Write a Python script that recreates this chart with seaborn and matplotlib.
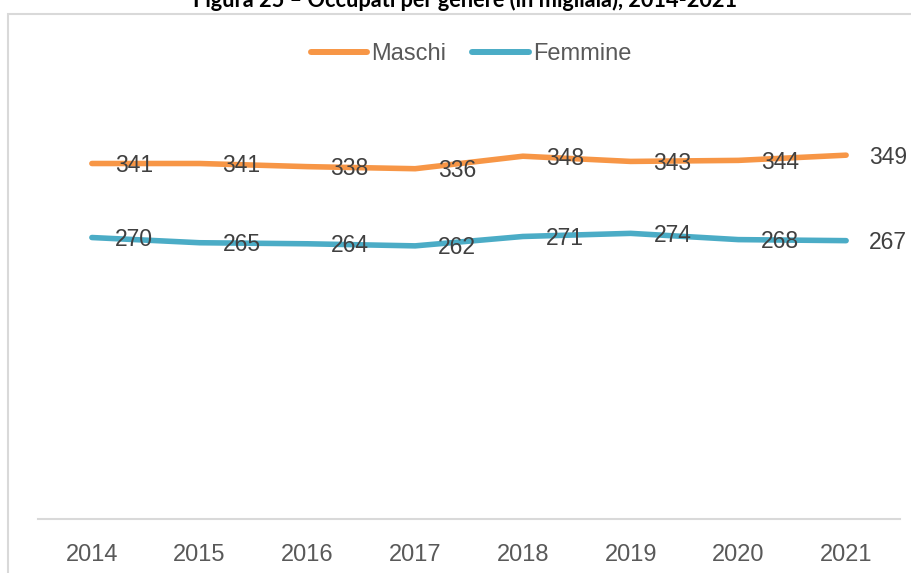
import numpy as np
import pandas as pd
import matplotlib
matplotlib.use("Agg")
import matplotlib.pyplot as plt
import seaborn as sns
from matplotlib.patches import Rectangle

# Data (in migliaia)
years = [2014, 2015, 2016, 2017, 2018, 2019, 2020, 2021]
maschi = [341, 341, 338, 336, 348, 343, 344, 349]
femmine = [270, 265, 264, 262, 271, 274, 268, 267]
series_names = ["Maschi", "Femmine"]
colors = ["#F79646", "#4BACC6"]
title = "Figura 25 – Occupati per genere (in migliaia), 2014-2021"

df = pd.DataFrame({
    "Anno": years * 2,
    "Occupati": maschi + femmine,
    "Genere": [series_names[0]] * len(years) + [series_names[1]] * len(years),
})

sns.set_style("white")
plt.rcParams["font.family"] = ["Liberation Sans", "DejaVu Sans"]

W, H = 911, 573
fig = plt.figure(figsize=(W / 100, H / 100), dpi=100)

# chart frame (only top and left edges visible in the crop)
fig.patches.append(Rectangle((8 / W, -0.1), 1.1, (H - 14) / H + 0.1,
                             transform=fig.transFigure, fill=False,
                             edgecolor="#d9d9d9", linewidth=1.5))

# caption above the frame, cropped at the top as in the source
fig.text(465 / W, 1 - 7 / H, title, ha="center", va="baseline",
         fontsize=15.7, fontweight="bold", color="black",
         family=["Lato", "DejaVu Sans"])

ax = fig.add_axes([38 / W, (H - 519) / H, (900 - 38) / W, (519 - 102) / H])
ax.set_facecolor("none")

sns.lineplot(data=df, x="Anno", y="Occupati", hue="Genere",
             palette=dict(zip(series_names, colors)), linewidth=4,
             legend=False, ax=ax, solid_capstyle="round")

ax.set_xlim(years[0] - 0.5, years[-1] + 0.5)
ax.set_ylim(0, 400)
ax.set_xticks(years)
ax.set_xticklabels([str(y) for y in years])
ax.set_yticks([])
ax.set_xlabel("")
ax.set_ylabel("")
ax.tick_params(axis="x", length=0, pad=18, labelsize=17, labelcolor="#595959")
for s in ["top", "left", "right"]:
    ax.spines[s].set_visible(False)
ax.spines["bottom"].set_color("#d9d9d9")
ax.spines["bottom"].set_linewidth(1.5)

# data labels, shifted right like in the source chart
for vals in (maschi, femmine):
    for x, v in zip(years, vals):
        ax.annotate(str(v), (x, v), xytext=(42, -2), textcoords="offset pixels",
                    ha="center", va="center", fontsize=16.5, color="#404040")

# legend
handles = [plt.Line2D([], [], color=c, linewidth=4.3, solid_capstyle="round") for c in colors]
fig.legend(handles, series_names, loc="center", bbox_to_anchor=(471 / W, 1 - 54 / H),
           ncol=2, frameon=False, fontsize=17, handlelength=2.4, handletextpad=0.17,
           columnspacing=1.1, labelcolor="#595959")

fig.savefig("out.png", dpi=100)
